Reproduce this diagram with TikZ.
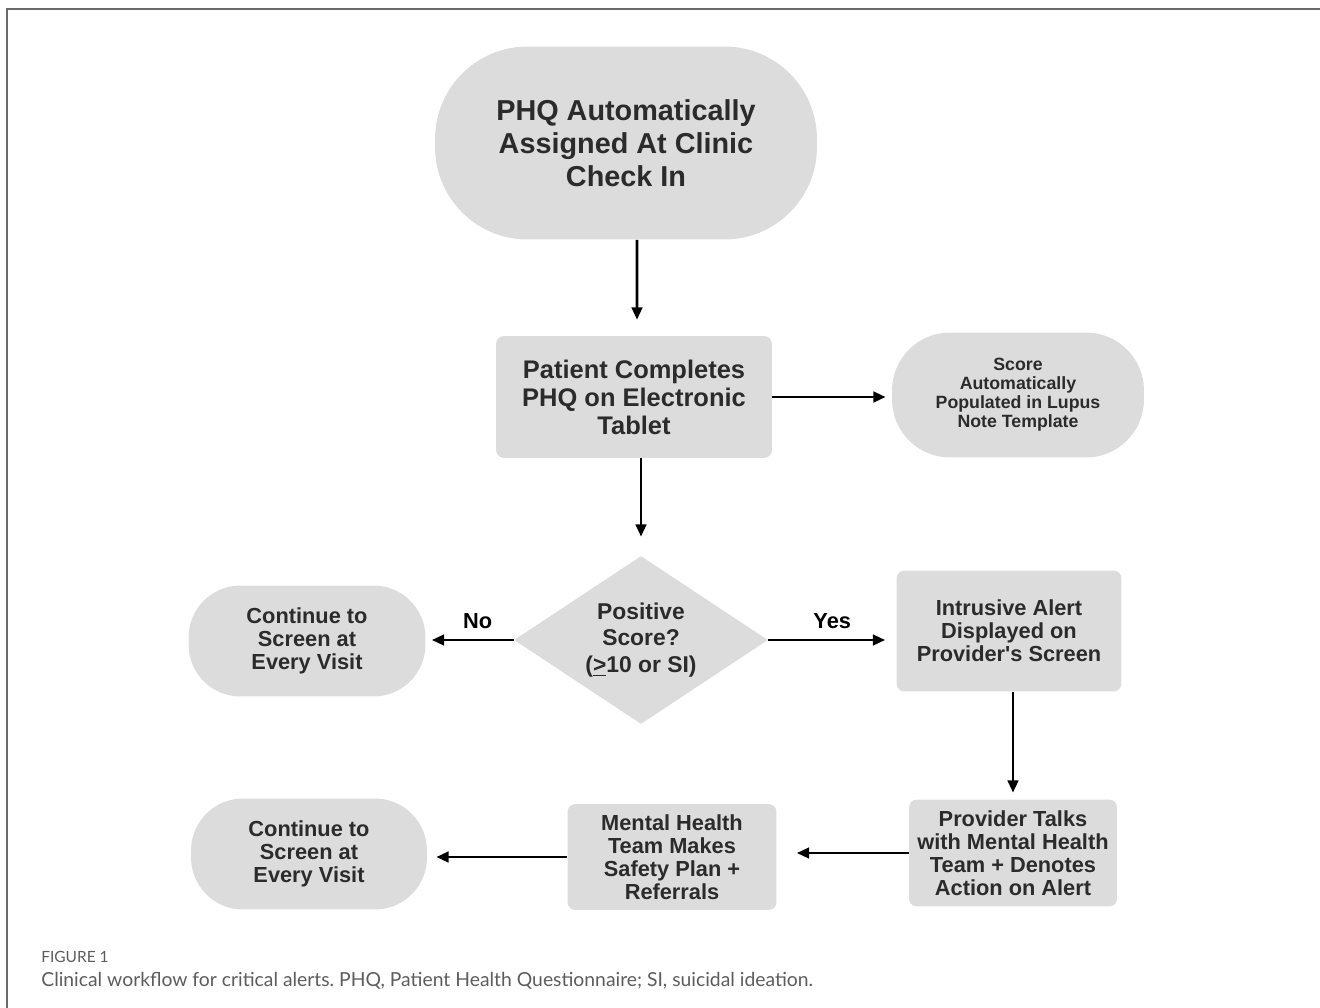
\documentclass[tikz,border=0pt]{standalone}
\usepackage{fontspec}
\setmainfont{Liberation Sans}
\newfontfamily\capfont{Lato}
\usepackage{tikz}
\usetikzlibrary{positioning}
\usetikzlibrary{shapes}
\usetikzlibrary{arrows.meta}
\usetikzlibrary{calc}

\definecolor{boxgray}{HTML}{DCDCDC}
\definecolor{txtgray}{HTML}{2B2B2B}
\definecolor{framegray}{HTML}{6A6A6A}
\definecolor{capgray}{HTML}{5C5C5C}

\newcommand{\bigtxt}{\bfseries\fontsize{16.4}{18.7}\selectfont}
\newcommand{\midtxt}{\bfseries\fontsize{14.5}{15.9}\selectfont}
\newcommand{\diatxt}{\bfseries\fontsize{13}{15.3}\selectfont}
\newcommand{\smalltxt}{\bfseries\fontsize{12.4}{13}\selectfont}
\newcommand{\tinytxt}{\bfseries\fontsize{10.1}{10.8}\selectfont}
\frenchspacing

\begin{document}
\begin{tikzpicture}[x=0.02cm, y=-0.02cm,
	every node/.style = {text=txtgray, align=center, inner sep=0pt},
	term/.style = {rectangle, fill=boxgray, rounded corners=#1},
	proc/.style = {rectangle, fill=boxgray, rounded corners=0.16cm},
	dec/.style = {diamond, aspect=1.5, fill=boxgray},
	arr/.style = {-{Triangle[length=7pt,width=6pt]}, line width=1.6pt, black}]
\useasboundingbox (0,0) rectangle (1320,1008);
\draw[framegray, line width=1.1pt] (1320,9) -- (7,9) -- (7,1008);

\node[term=1.85cm, minimum width=7.64cm, minimum height=3.86cm, font=\bigtxt] (assign) at (626,143) {PHQ Automatically\\Assigned At Clinic\\Check In};
\node[proc, minimum width=5.52cm, minimum height=2.44cm, font=\midtxt] (tablet) at (634,397) {Patient Completes\\PHQ on Electronic\\Tablet};
\node[term=1.16cm, minimum width=5.04cm, minimum height=2.5cm, font=\tinytxt] (score) at (1018,395) {Score\\Automatically\\Populated in Lupus\\Note Template};
\node[dec, minimum width=5.08cm, minimum height=3.36cm, font=\diatxt] (check) at (641,640) {Positive\\Score?\\(\underline{>}10 or SI)};
\node[term=1.04cm, minimum width=4.74cm, minimum height=2.22cm, font=\smalltxt] (cont1) at (307,641) {Continue to\\Screen at\\Every Visit};
\node[proc, minimum width=4.5cm, minimum height=2.42cm, font=\smalltxt] (alert) at (1009,631) {Intrusive Alert\\Displayed on\\Provider\textquotesingle s Screen};
\node[proc, minimum width=4.16cm, minimum height=2.14cm, font=\smalltxt] (talk) at (1013,853) {Provider Talks\\with Mental Health\\Team + Denotes\\Action on Alert};
\node[proc, minimum width=4.18cm, minimum height=2.12cm, font=\smalltxt] (plan) at (672,857) {Mental Health\\Team Makes\\Safety Plan +\\Referrals};
\node[term=1.04cm, minimum width=4.72cm, minimum height=2.22cm, font=\smalltxt] (cont2) at (309,854) {Continue to\\Screen at\\Every Visit};

\draw[arr, shorten >=0.32cm] ([xshift=0.22cm]assign.south) -- ([xshift=0.06cm]tablet.north);
\draw[arr, shorten >=0.12cm] (tablet.east) -- (tablet.east -| score.west);
\draw[arr, shorten >=0.38cm] (tablet.south -| check.north) -- (check.north);
\draw[arr, shorten >=0.12cm] (check.west) -- (check.west -| cont1.east)
	node[midway, above=0.2cm, xshift=0.16cm, font=\smalltxt, text=black] (no) {No};
\draw[arr, shorten >=0.22cm] (check.east) -- (check.east -| alert.west)
	node[midway, above=0.2cm, font=\smalltxt, text=black] (yes) {Yes};
\draw[arr, shorten >=0.13cm] (alert.south -| talk.north) -- (talk.north);
\draw[arr, shorten >=0.4cm] (talk.west) -- (talk.west -| plan.east);
\draw[arr, shorten >=0.18cm] (plan.west) -- (plan.west -| cont2.east);

\node[anchor=base west, font=\capfont\fontsize{8.8}{10}\selectfont, text=capgray] (fig) at (41,962) {FIGURE 1};
\node[anchor=base west, font=\capfont\fontsize{11}{12}\selectfont, text=capgray] (cap) at (41,986) {Clinical workflow for critical alerts. PHQ, Patient Health Questionnaire; SI, suicidal ideation.};
\end{tikzpicture}
\end{document}
